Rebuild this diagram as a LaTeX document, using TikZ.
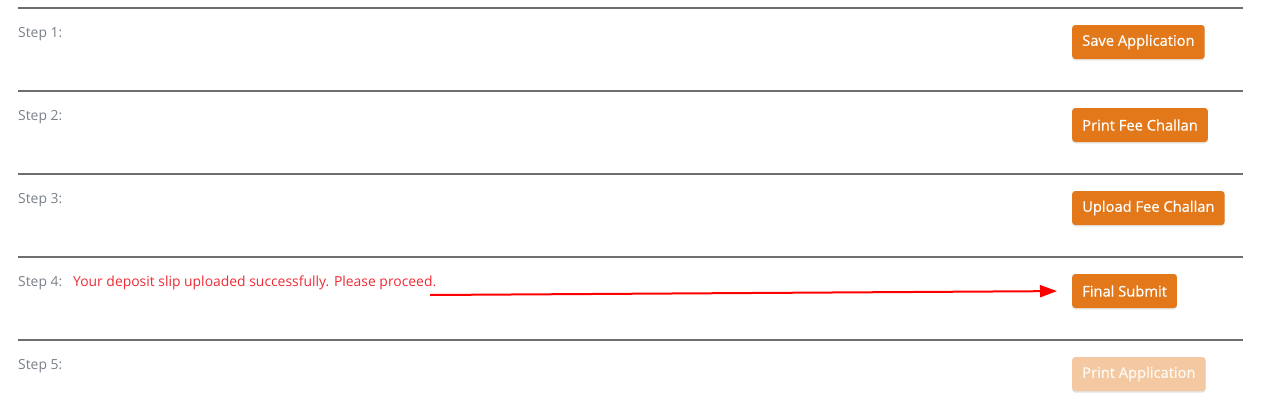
\documentclass[tikz,border=0pt]{standalone}
\usepackage{fontspec}
\setmainfont{Open Sans}
\usetikzlibrary{arrows.meta,shadows}
\definecolor{btnorange}{HTML}{E3781A}
\definecolor{btnfaded}{HTML}{F4C9A2}
\definecolor{rulegray}{HTML}{6E6E6E}
\definecolor{labelgray}{HTML}{7A808A}
\definecolor{msgred}{HTML}{EE2B36}

\begin{document}
\begin{tikzpicture}[x=1pt,y=-1pt,
  btn/.style={fill=btnorange,text=white,rounded corners=3pt,minimum height=34pt,inner xsep=10pt,anchor=west,
    drop shadow={opacity=0.18,shadow xshift=0pt,shadow yshift=-1.5pt},
    font=\fontsize{14.7}{17}\selectfont\addfontfeatures{FakeBold=0.6}},
  fadedbtn/.style={btn,fill=btnfaded,text=white!90!btnfaded,drop shadow={opacity=0.06,shadow xshift=0pt,shadow yshift=-1.5pt}},
  steplabel/.style={anchor=base west,inner sep=0pt,text=labelgray,font=\fontsize{13.9}{16}\selectfont},
  rule/.style={draw=rulegray,line width=1.6pt}]
  \useasboundingbox (0,0) rectangle (1263,413);
  \draw[rule] (18,8) -- (1243,8);
  \draw[rule] (18,91) -- (1243,91);
  \draw[rule] (18,174) -- (1243,174);
  \draw[rule] (18,257) -- (1243,257);
  \draw[rule] (18,340) -- (1243,340);
  \node[steplabel] (s1) at (18,37) {Step 1:};
  \node[steplabel] (s2) at (18,120) {Step 2:};
  \node[steplabel] (s3) at (18,203) {Step 3:};
  \node[steplabel] (s4) at (18,286) {Step 4:};
  \node[steplabel] (s5) at (18,369) {Step 5:};
  \node[steplabel,text=msgred] (msg) at (73,286) {Your deposit slip uploaded successfully. Please proceed.};
  \node[btn] (b1) at (1072,42) {Save Application};
  \node[btn] (b2) at (1072,125) {Print Fee Challan};
  \node[btn] (b3) at (1072,208) {Upload Fee Challan};
  \node[btn] (b4) at (1072,291) {Final Submit};
  \node[fadedbtn] (b5) at (1072,374) {Print Application};
  \coordinate (start) at (430,295);
  \draw[draw=red,line width=2pt,-{Triangle[length=17pt,width=12pt]},shorten >=15pt] (start) -- (b4.west);
\end{tikzpicture}
\end{document}
